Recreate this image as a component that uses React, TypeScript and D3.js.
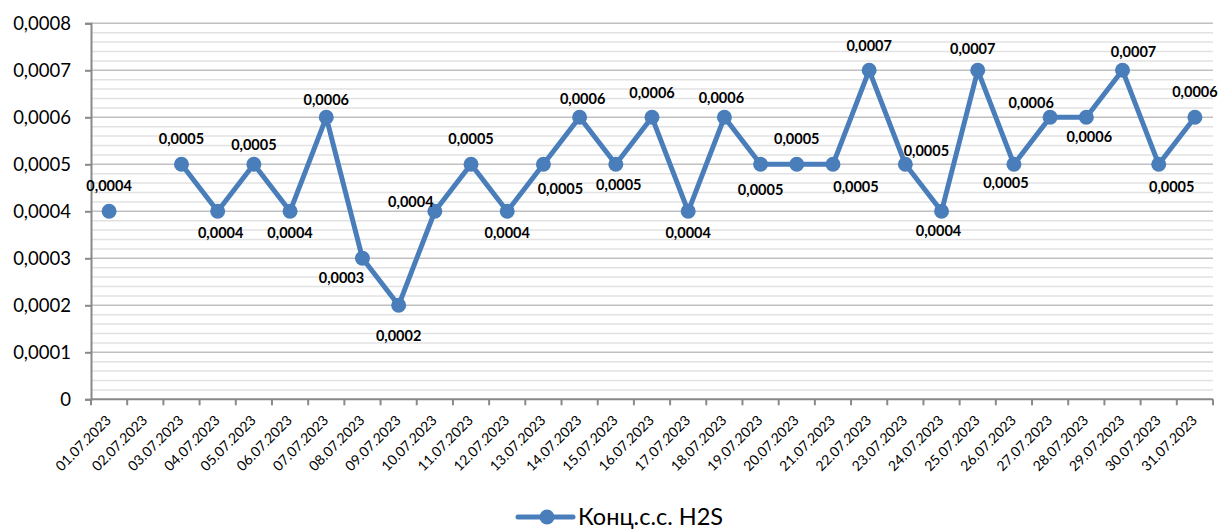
import { useEffect, useRef } from 'react';
import * as d3 from 'd3';

const dates = [
  "01.07.2023", "02.07.2023", "03.07.2023", "04.07.2023", "05.07.2023", "06.07.2023",
  "07.07.2023", "08.07.2023", "09.07.2023", "10.07.2023", "11.07.2023", "12.07.2023",
  "13.07.2023", "14.07.2023", "15.07.2023", "16.07.2023", "17.07.2023", "18.07.2023",
  "19.07.2023", "20.07.2023", "21.07.2023", "22.07.2023", "23.07.2023", "24.07.2023",
  "25.07.2023", "26.07.2023", "27.07.2023", "28.07.2023", "29.07.2023", "30.07.2023",
  "31.07.2023"
];

// Конц.с.с. H2S (02.07 - нет данных)
const h2s: (number | null)[] = [
  0.0004, null, 0.0005, 0.0004, 0.0005, 0.0004, 0.0006, 0.0003, 0.0002, 0.0004, 0.0005,
  0.0004, 0.0005, 0.0006, 0.0005, 0.0006, 0.0004, 0.0006, 0.0005, 0.0005, 0.0005, 0.0007,
  0.0005, 0.0004, 0.0007, 0.0005, 0.0006, 0.0006, 0.0007, 0.0005, 0.0006
];

const yTicks = [0, 0.0001, 0.0002, 0.0003, 0.0004, 0.0005, 0.0006, 0.0007, 0.0008];

const seriesName = "Конц.с.с. H2S";

// label placement relative to the marker, as in the source chart
const labelOffsets: [number, number][] = [
  [0, -26], [0, 0], [0, -26], [3, 21], [0, -20], [0, 21], [0, -18], [-21, 19], [0, 30], [-24, -10],
  [0, -26], [0, 21], [17, 24], [3, -19], [3, 20], [0, -25], [0, 21], [-3, -20], [0, 25], [0, -26],
  [23, 22], [0, -25], [21, -14], [-3, 19], [-5, -22], [-8, 18], [-19, -15], [3, 19], [11, -19], [13, 22],
  [0, -26]
];

const FONT = "Lato, 'Liberation Sans', sans-serif";
const BLUE = "#4a7ebb";

export default function App() {
  const svgRef = useRef<SVGSVGElement>(null);
  const width = 1219;
  const height = 529;

  useEffect(() => {
    document.body.style.margin = "0";
    if (!svgRef.current) return;
    const svg = d3.select(svgRef.current);
    svg.selectAll("*").remove();

    const left = 91, right = 1213, top = 23.3, bottom = 399.3;

    const x = d3.scaleBand<string>().domain(dates).range([left, right]).padding(0);
    const y = d3.scaleLinear().domain([0, 0.0008]).range([bottom, top]);
    const cx = (d: string) => (x(d) as number) + x.bandwidth() / 2;

    const locale = d3.formatLocale({ decimal: ",", thousands: " ", grouping: [3], currency: ["", ""] });
    const f4 = locale.format(".4f");
    const fmt = (v: number) => (v === 0 ? "0" : f4(v));

    // minor gridlines
    const minor = d3.range(0, 40).map(i => i * 0.00002).filter((_, i) => i % 5 !== 0);
    svg.append("g")
      .selectAll("line")
      .data(minor)
      .enter()
      .append("line")
      .attr("x1", left)
      .attr("x2", right)
      .attr("y1", d => y(d))
      .attr("y2", d => y(d))
      .attr("stroke", "#e2e2e2")
      .attr("stroke-width", 1.5);

    // major gridlines
    svg.append("g")
      .selectAll("line")
      .data(yTicks.slice(1))
      .enter()
      .append("line")
      .attr("x1", left)
      .attr("x2", right)
      .attr("y1", d => y(d))
      .attr("y2", d => y(d))
      .attr("stroke", "#c0c0c0")
      .attr("stroke-width", 1.5);

    // y axis
    const yAxis = svg.append("g")
      .attr("transform", `translate(${left},0)`)
      .call(d3.axisLeft(y).tickValues(yTicks).tickSize(6).tickPadding(14).tickFormat(d => fmt(+d)));
    yAxis.select(".domain").attr("stroke", "#898989").attr("stroke-width", 2);
    yAxis.selectAll(".tick line").attr("stroke", "#898989").attr("stroke-width", 2);
    yAxis.selectAll(".tick text")
      .attr("fill", "#000")
      .style("font-family", FONT)
      .style("font-size", "18.5px");

    // x axis
    const xg = svg.append("g");
    xg.append("line")
      .attr("x1", left).attr("x2", right)
      .attr("y1", bottom).attr("y2", bottom)
      .attr("stroke", "#898989").attr("stroke-width", 2);
    xg.selectAll(".xt")
      .data([...dates.map(d => x(d) as number), right])
      .enter()
      .append("line")
      .attr("x1", d => d).attr("x2", d => d)
      .attr("y1", bottom).attr("y2", bottom + 6)
      .attr("stroke", "#898989").attr("stroke-width", 2);
    xg.selectAll(".xl")
      .data(dates)
      .enter()
      .append("text")
      .attr("transform", d => `translate(${cx(d) + 3},${bottom + 22}) rotate(-45)`)
      .attr("text-anchor", "end")
      .style("font-family", FONT)
      .style("font-size", "14px")
      .attr("fill", "#000")
      .text(d => d);

    const pts = dates.map((d, i) => ({ date: d, value: h2s[i], i }));

    // line
    const line = d3.line<typeof pts[number]>()
      .defined(d => d.value !== null)
      .x(d => cx(d.date))
      .y(d => y(d.value as number));
    svg.append("path")
      .datum(pts)
      .attr("d", line)
      .attr("fill", "none")
      .attr("stroke", BLUE)
      .attr("stroke-width", 5)
      .attr("stroke-linejoin", "round");

    const valid = pts.filter(d => d.value !== null);

    // markers
    svg.append("g")
      .selectAll("circle")
      .data(valid)
      .enter()
      .append("circle")
      .attr("cx", d => cx(d.date))
      .attr("cy", d => y(d.value as number))
      .attr("r", 7.5)
      .attr("fill", BLUE);

    // data labels
    svg.append("g")
      .selectAll("text")
      .data(valid)
      .enter()
      .append("text")
      .attr("x", d => cx(d.date) + labelOffsets[d.i][0])
      .attr("y", d => y(d.value as number) + labelOffsets[d.i][1])
      .attr("dy", "0.36em")
      .attr("text-anchor", "middle")
      .style("font-family", FONT)
      .style("font-size", "14.5px")
      .style("font-weight", "bold")
      .attr("fill", "#000")
      .text(d => fmt(d.value as number));

    // legend
    const lg = svg.append("g").attr("transform", "translate(518,517)");
    lg.append("line")
      .attr("x1", 0).attr("x2", 55)
      .attr("y1", 0).attr("y2", 0)
      .attr("stroke", BLUE).attr("stroke-width", 5).attr("stroke-linecap", "round");
    lg.append("circle").attr("cx", 29).attr("cy", 0).attr("r", 7.5).attr("fill", BLUE);
    lg.append("text")
      .attr("x", 60)
      .attr("y", 0)
      .attr("dy", "0.36em")
      .style("font-family", FONT)
      .style("font-size", "23.5px")
      .attr("fill", "#000")
      .text(seriesName);
  }, []);

  return (
    <div style={{ width, height, background: "#fff" }}>
      <svg ref={svgRef} width={width} height={height} style={{ display: "block" }}></svg>
    </div>
  );
}
